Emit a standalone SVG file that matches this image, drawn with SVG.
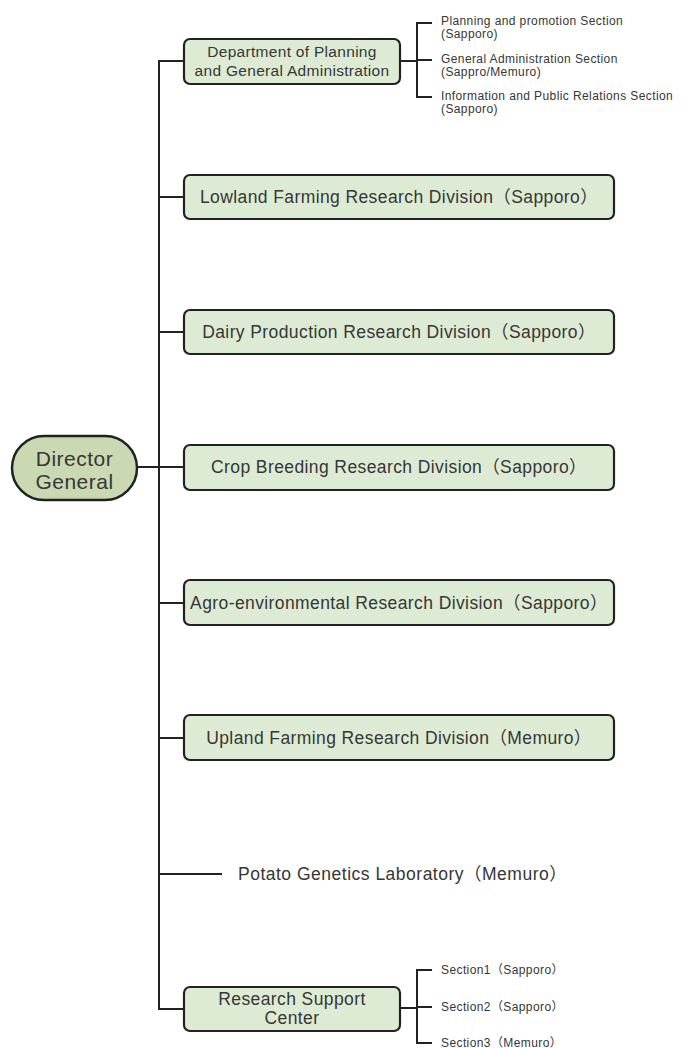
<svg xmlns="http://www.w3.org/2000/svg" width="693" height="1048" viewBox="0 0 693 1048">
<style>
text{font-family:"Liberation Sans","Noto Sans CJK JP",sans-serif;fill:#363636}
.box{fill:#deebd4;stroke:#222;stroke-width:2.2}
.dg{fill:#cad9b1;stroke:#222;stroke-width:2.5}
.ln{fill:none;stroke:#222;stroke-width:2}
.t16{font-size:17.5px;letter-spacing:0.4px;text-anchor:middle}
.t14{font-size:15.5px;letter-spacing:0.3px;text-anchor:middle}
.t11{font-size:12px;letter-spacing:0.4px}
</style>
<rect width="693" height="1048" fill="#fff"/>
<g id="connectors">
<path class="ln" d="M184 61H159V1009H184"/>
<path class="ln" d="M137 467H184"/>
<path class="ln" d="M159 197H184M159 332H184M159 603H184M159 738H184M159 874H222"/>
<path class="ln" d="M400 61H417M432 23H417V97H432M417 60H432"/>
<path class="ln" d="M400 1008H417M432 970H417V1043H432M417 1007H432"/>
</g>
<g id="director">
<rect class="dg" x="12" y="436" width="125" height="64" rx="32"/>
<text x="74.5" y="466" style="font-size:21px;letter-spacing:0.5px;text-anchor:middle">Director</text>
<text x="74.5" y="489" style="font-size:21px;letter-spacing:0.5px;text-anchor:middle">General</text>
</g>
<g id="dept">
<rect class="box" x="184" y="39" width="216" height="45" rx="6"/>
<text class="t14" x="292" y="57">Department of Planning</text>
<text class="t14" x="292" y="76">and General Administration</text>
</g>
<g id="dept-sections">
<text class="t11" x="441" y="25">Planning and promotion Section</text>
<text class="t11" x="441" y="38">(Sapporo)</text>
<text class="t11" x="441" y="63">General Administration Section</text>
<text class="t11" x="441" y="76">(Sappro/Memuro)</text>
<text class="t11" x="441" y="100">Information and Public Relations Section</text>
<text class="t11" x="441" y="113">(Sapporo)</text>
</g>
<g id="lowland">
<rect class="box" x="184" y="175" width="430" height="44" rx="6"/>
<text class="t16" x="399" y="203">Lowland Farming Research Division（Sapporo）</text>
</g>
<g id="dairy">
<rect class="box" x="184" y="310" width="430" height="44" rx="6"/>
<text class="t16" x="399" y="338">Dairy Production Research Division（Sapporo）</text>
</g>
<g id="crop">
<rect class="box" x="184" y="445" width="430" height="45" rx="6"/>
<text class="t16" x="399" y="473">Crop Breeding Research Division（Sapporo）</text>
</g>
<g id="agro">
<rect class="box" x="184" y="580" width="430" height="45" rx="6"/>
<text class="t16" x="399" y="609">Agro-environmental Research Division（Sapporo）</text>
</g>
<g id="upland">
<rect class="box" x="184" y="715" width="430" height="45" rx="6"/>
<text class="t16" x="399" y="744">Upland Farming Research Division（Memuro）</text>
</g>
<g id="potato">
<text x="238" y="880" style="font-size:17.5px;letter-spacing:0.5px">Potato Genetics Laboratory（Memuro）</text>
</g>
<g id="support">
<rect class="box" x="184" y="987" width="216" height="44" rx="6"/>
<text class="t16" x="292" y="1005">Research Support</text>
<text class="t16" x="292" y="1024">Center</text>
</g>
<g id="support-sections">
<text class="t11" x="441" y="974">Section1（Sapporo）</text>
<text class="t11" x="441" y="1011">Section2（Sapporo）</text>
<text class="t11" x="441" y="1047">Section3（Memuro）</text>
</g>
</svg>
